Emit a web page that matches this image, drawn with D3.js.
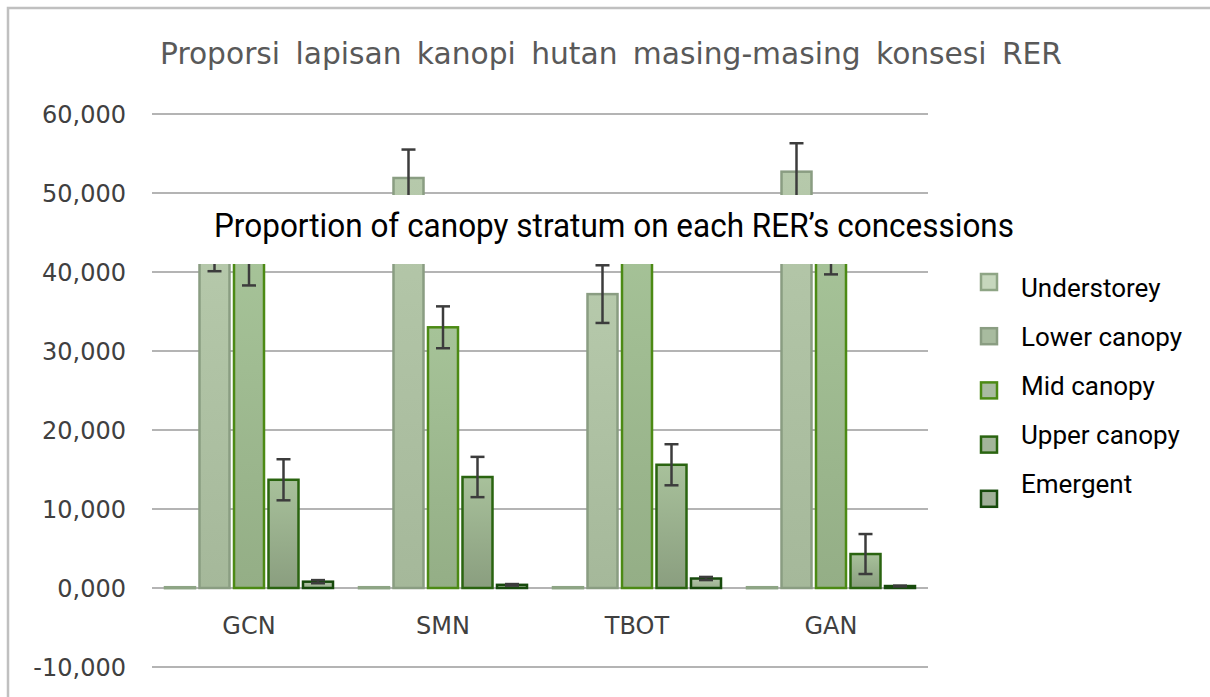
<!DOCTYPE html>
<html>
<head>
<meta charset="utf-8">
<script src="https://cdn.jsdelivr.net/npm/d3@7"></script>
<style>
  body { margin: 0; background: #fff; }
  svg { display: block; }
</style>
</head>
<body>
<div id="chart"></div>
<script>
// chart data
const categories = ["GCN", "SMN", "TBOT", "GAN"];
const series = ["Understorey", "Lower canopy", "Mid canopy", "Upper canopy", "Emergent"];

const understorey = [0.1, 0.1, 0.1, 0.1];
const lowerCanopy = [43.5, 51.9, 37.2, 52.7];
const midCanopy = [41.8, 33.0, 45.0, 43.3];
const upperCanopy = [13.7, 14.05, 15.6, 4.3];
const emergent = [0.8, 0.4, 1.2, 0.25];

const understoreyErr = [0, 0, 0, 0];
const lowerCanopyErr = [3.4, 3.6, 3.65, 3.6];
const midCanopyErr = [3.5, 2.65, 3.5, 3.6];
const upperCanopyErr = [2.6, 2.55, 2.6, 2.53];
const emergentErr = [0.2, 0.1, 0.2, 0.05];

const yTicks = [-10, 0, 10, 20, 30, 40, 50, 60];

const values = [understorey, lowerCanopy, midCanopy, upperCanopy, emergent];
const errors = [understoreyErr, lowerCanopyErr, midCanopyErr, upperCanopyErr, emergentErr];

// colours per series: gradient top, gradient bottom, border, legend fill
const styles = [
  {top: "#cadbc1", bottom: "#b3c7a8", stroke: "#8ea585", legend: "#c6d7bd"},
  {top: "#b6c9ab", bottom: "#a5b89a", stroke: "#8a9d82", legend: "#a8bb9f"},
  {top: "#a6c398", bottom: "#94ae86", stroke: "#4c8a14", legend: "#a9bba0"},
  {top: "#a8c19b", bottom: "#8a9e7f", stroke: "#2a6410", legend: "#a3b59a"},
  {top: "#b2c4a8", bottom: "#9aae8e", stroke: "#174a0c", legend: "#a0b098"}
];

const width = 1210, height = 697;

const svg = d3.select("#chart")
  .append("svg")
  .attr("width", width)
  .attr("height", height);

const defs = svg.append("defs");
styles.forEach((s, i) => {
  const g = defs.append("linearGradient")
    .attr("id", "grad" + i)
    .attr("x1", 0).attr("y1", 0).attr("x2", 0).attr("y2", 1);
  g.append("stop").attr("offset", "0%").attr("stop-color", s.top);
  g.append("stop").attr("offset", "100%").attr("stop-color", s.bottom);
});

// outer frame (only top and left edges show in the picture)
svg.append("path")
  .attr("d", "M8,697 L8,8 L1210,8")
  .attr("fill", "none")
  .attr("stroke", "#c0c0c0")
  .attr("stroke-width", 2.5);

// scales
const y = d3.scaleLinear().domain([-10, 60]).range([667, 114]);

const x0 = d3.scaleBand()
  .domain(categories)
  .range([152, 928])
  .padding(0);

const x1 = d3.scaleBand()
  .domain(series)
  .range([10.75, 183.25])
  .paddingInner(0.13)
  .paddingOuter(0.065);

const locale = d3.formatLocale({decimal: ",", thousands: ".", grouping: [3], currency: ["", ""], minus: "-"});
const fmt = locale.format(".3f");

// gridlines
svg.append("g")
  .selectAll("line")
  .data(yTicks)
  .join("line")
  .attr("x1", 152)
  .attr("x2", 928)
  .attr("y1", d => y(d))
  .attr("y2", d => y(d))
  .attr("stroke", "#b4b4b4")
  .attr("stroke-width", 2);

// y tick labels
svg.append("g")
  .selectAll("text")
  .data(yTicks)
  .join("text")
  .attr("x", 126)
  .attr("y", d => y(d))
  .attr("dy", "0.36em")
  .attr("text-anchor", "end")
  .attr("font-family", "DejaVu Sans")
  .attr("font-size", 24)
  .attr("fill", "#404040")
  .text(d => fmt(d));

// category labels
svg.append("g")
  .selectAll("text")
  .data(categories)
  .join("text")
  .attr("x", d => x0(d) + x0.bandwidth() / 2)
  .attr("y", 634)
  .attr("text-anchor", "middle")
  .attr("font-family", "DejaVu Sans")
  .attr("font-size", 24)
  .attr("fill", "#404040")
  .text(d => d);

// bars
const rows = [];
series.forEach((s, si) => {
  categories.forEach((c, ci) => {
    rows.push({cat: c, ser: s, si: si, v: values[si][ci], e: errors[si][ci]});
  });
});

svg.append("g")
  .selectAll("rect")
  .data(rows)
  .join("rect")
  .attr("x", d => x0(d.cat) + x1(d.ser))
  .attr("width", x1.bandwidth())
  .attr("y", d => y(d.v))
  .attr("height", d => Math.max(1, y(0) - y(d.v)))
  .attr("fill", d => "url(#grad" + d.si + ")")
  .attr("stroke", d => styles[d.si].stroke)
  .attr("stroke-width", 2.5);

// error bars
const errG = svg.append("g")
  .selectAll("g")
  .data(rows.filter(d => d.e > 0))
  .join("g")
  .attr("stroke", "#3c3c3c")
  .attr("stroke-width", 2.5);

errG.append("line")
  .attr("x1", d => x0(d.cat) + x1(d.ser) + x1.bandwidth() / 2)
  .attr("x2", d => x0(d.cat) + x1(d.ser) + x1.bandwidth() / 2)
  .attr("y1", d => y(d.v + d.e))
  .attr("y2", d => y(d.v - d.e));

errG.append("line")
  .attr("x1", d => x0(d.cat) + x1(d.ser) + x1.bandwidth() / 2 - 7)
  .attr("x2", d => x0(d.cat) + x1(d.ser) + x1.bandwidth() / 2 + 7)
  .attr("y1", d => y(d.v + d.e))
  .attr("y2", d => y(d.v + d.e));

errG.append("line")
  .attr("x1", d => x0(d.cat) + x1(d.ser) + x1.bandwidth() / 2 - 7)
  .attr("x2", d => x0(d.cat) + x1(d.ser) + x1.bandwidth() / 2 + 7)
  .attr("y1", d => y(d.v - d.e))
  .attr("y2", d => y(d.v - d.e));

// white box with the English title laid over the plot
svg.append("rect")
  .attr("x", 140)
  .attr("y", 195)
  .attr("width", 960)
  .attr("height", 69)
  .attr("fill", "#fff");

svg.append("text")
  .attr("x", 214)
  .attr("y", 237)
  .attr("font-family", "Roboto")
  .attr("font-size", 33)
  .attr("fill", "#000")
  .attr("textLength", 800)
  .attr("lengthAdjust", "spacingAndGlyphs")
  .text("Proportion of canopy stratum on each RER\u2019s concessions");

// chart title
svg.append("text")
  .attr("x", 160)
  .attr("y", 64)
  .attr("font-family", "DejaVu Sans")
  .attr("font-size", 30)
  .attr("fill", "#595959")
  .attr("textLength", 902)
  .attr("lengthAdjust", "spacingAndGlyphs")
  .style("word-spacing", "6px")
  .text("Proporsi lapisan kanopi hutan masing-masing konsesi RER");

// legend
const legend = svg.append("g")
  .selectAll("g")
  .data(series)
  .join("g");

legend.append("rect")
  .attr("x", 981)
  .attr("y", (d, i) => 282 + i * 54.2 - 8)
  .attr("width", 16)
  .attr("height", 16)
  .attr("fill", (d, i) => styles[i].legend)
  .attr("stroke", (d, i) => styles[i].stroke)
  .attr("stroke-width", 2.5);

legend.append("text")
  .attr("x", 1021)
  .attr("y", (d, i) => 297 + i * 49)
  .attr("font-family", "Roboto")
  .attr("font-size", 26)
  .attr("fill", "#000")
  .text(d => d);
</script>
</body>
</html>
